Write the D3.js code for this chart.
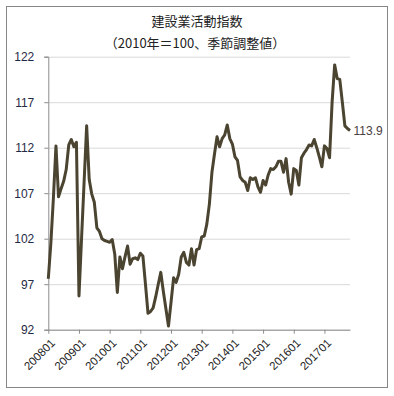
<!DOCTYPE html>
<html><head><meta charset="utf-8">
<script src="https://cdn.jsdelivr.net/npm/d3@7"></script>
<style>
body{margin:0;background:#fff;}
svg{display:block;}
text{font-family:"Liberation Sans",Arial,sans-serif;}
.ttl{font-family:"Noto Sans CJK JP","Noto Sans",sans-serif;}
</style></head>
<body><svg id="c" width="394" height="396"></svg>
<script>
const startYear = 2008, startMonth = 1, monthCount = 119;
const tickLabels = ["200801","200901","201001","201101","201201","201301","201401","201501","201601","201701"];
const yTicks = [92, 97, 102, 107, 112, 117, 122];
const values = [
97.6,101.5,106.5,112.2,106.6,107.5,108.3,109.6,112.3,112.9,112.1,112.6,
95.7,102.0,108.2,114.4,108.5,106.9,106.0,103.2,102.8,102.0,101.8,101.7,
101.6,101.9,100.3,96.1,100.0,98.7,100.0,101.2,99.2,99.8,99.9,99.7,
100.4,100.1,97.0,93.8,94.0,94.4,95.6,97.0,98.3,96.2,94.3,92.4,
95.0,97.7,97.2,98.1,100.0,100.5,99.4,99.1,100.9,99.1,100.8,100.9,
102.2,102.3,103.6,105.8,109.3,111.3,113.2,112.1,113.0,113.4,114.5,113.0,
112.4,111.0,110.6,108.8,108.4,108.2,107.3,108.7,108.5,108.7,107.7,107.1,
108.4,107.9,109.0,109.7,109.6,109.9,110.5,110.5,109.3,110.8,108.2,106.9,
109.7,109.5,107.9,110.9,111.4,111.8,112.3,112.2,112.9,112.0,111.0,109.9,
112.2,111.9,110.9,117.0,121.1,119.6,119.5,117.0,114.4,114.1,113.9];
const title1 = "建設業活動指数";
const title2 = "（2010年＝100、季節調整値）";

const categories = [];
for (let i = 0; i < monthCount; i++) {
  const y = startYear + Math.floor((startMonth - 1 + i) / 12);
  const m = (startMonth - 1 + i) % 12 + 1;
  categories.push(String(y) + String(m).padStart(2, "0"));
}

const svg = d3.select("#c");
svg.append("rect").attr("x",6.5).attr("y",6.5).attr("width",381).attr("height",381)
  .attr("fill","#fff").attr("stroke","#868686").attr("stroke-width",1);

svg.append("text").attr("class","ttl").attr("x",197).attr("y",25.5).attr("text-anchor","middle")
  .attr("font-size",13).attr("fill","#222").text(title1);
svg.append("text").attr("class","ttl").attr("x",195).attr("y",48).attr("text-anchor","middle")
  .attr("font-size",13).attr("fill","#222").text(title2);

const x = d3.scalePoint().domain(categories).range([48.3, 350]);
const y = d3.scaleLinear().domain([92, 122]).range([329.7, 56.7]);

// gridlines
const grid = svg.append("g").attr("transform","translate(48.3,0)")
  .call(d3.axisLeft(y).tickValues(yTicks).tickSize(-301.7).tickFormat(""));
grid.select(".domain").remove();
grid.selectAll("line").attr("stroke","#d9d9d9").attr("stroke-width",1);

// y axis
const ya = svg.append("g").attr("transform","translate(48.3,0)")
  .call(d3.axisLeft(y).tickValues(yTicks).tickSize(4).tickPadding(10));
ya.select(".domain").attr("stroke","#8c8c8c");
ya.selectAll("line").attr("stroke","#8c8c8c");
ya.selectAll("text").attr("font-size",12).attr("fill","#1f2a44");

// x axis
const xa = svg.append("g").attr("transform","translate(0,329.7)")
  .call(d3.axisBottom(x).tickValues(tickLabels).tickSize(4).tickSizeOuter(0));
xa.select(".domain").attr("stroke","#8c8c8c");
xa.selectAll("line").attr("stroke","#8c8c8c");
xa.selectAll("text").attr("font-size",11.5).attr("fill","#222")
  .attr("text-anchor","end").attr("dy",null).attr("y",null)
  .attr("transform","translate(7,14) rotate(-45)");

// line
const line = d3.line().x((d,i)=>x(categories[i])).y(d=>y(d));
svg.append("path").datum(values).attr("d",line).attr("fill","none")
  .attr("stroke","#4a4431").attr("stroke-width",3).attr("stroke-linejoin","round");

// end label
const last = values.length - 1;
svg.append("text").attr("x", x(categories[last]) + 3.5).attr("y", y(values[last]))
  .attr("dy","0.35em").attr("font-size",12).attr("fill","#4a4040")
  .text(values[last].toFixed(1));
</script></body></html>
